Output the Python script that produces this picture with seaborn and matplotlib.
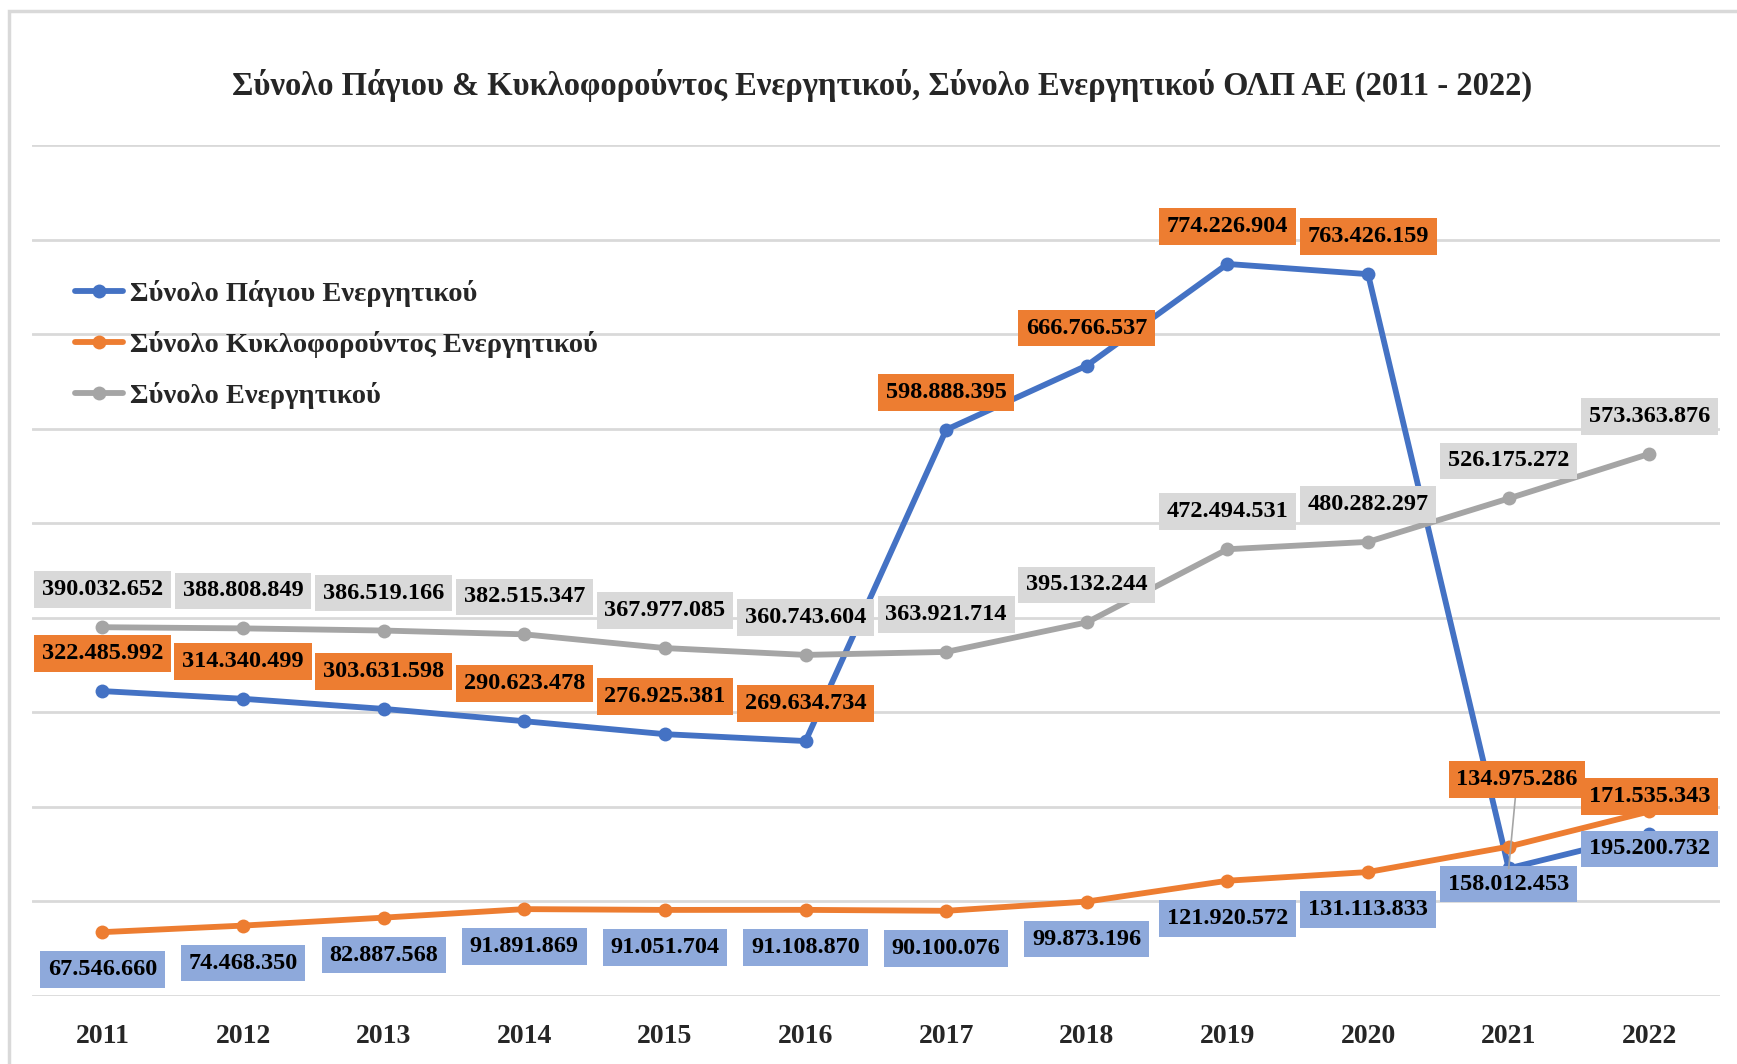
import matplotlib
matplotlib.use("Agg")
import matplotlib.pyplot as plt
import seaborn as sns
import pandas as pd
from matplotlib.patches import Rectangle

years = [2011, 2012, 2013, 2014, 2015, 2016, 2017, 2018, 2019, 2020, 2021, 2022]
pagio = [322485992, 314340499, 303631598, 290623478, 276925381, 269634734,
         598888395, 666766537, 774226904, 763426159, 134975286, 171535343]
kykloforoun = [67546660, 74468350, 82887568, 91891869, 91051704, 91108870,
               90100076, 99873196, 121920572, 131113833, 158012453, 195200732]
synolo = [390032652, 388808849, 386519166, 382515347, 367977085, 360743604,
          363921714, 395132244, 472494531, 480282297, 526175272, 573363876]

series_names = ["Σύνολο Πάγιου Ενεργητικού",
                "Σύνολο Κυκλοφορούντος Ενεργητικού",
                "Σύνολο Ενεργητικού"]
title = "Σύνολο Πάγιου & Κυκλοφορούντος Ενεργητικού, Σύνολο Ενεργητικού ΟΛΠ ΑΕ (2011 - 2022)"

line_colors = ["#4472C4", "#ED7D31", "#A5A5A5"]
box_colors = ["#ED7D31", "#8EA9DB", "#D9D9D9"]

sns.set_theme(style="white")
plt.rcParams['font.family'] = ['Liberation Serif', 'DejaVu Serif']

fig = plt.figure(figsize=(17.37, 10.64), dpi=100)
ax = fig.add_axes([0.0185, 0.0639, 0.9715, 0.7998])

df = pd.DataFrame({
    "year": years * 3,
    "value": pagio + kykloforoun + synolo,
    "series": [series_names[0]] * 12 + [series_names[1]] * 12 + [series_names[2]] * 12,
})

sns.lineplot(data=df, x="year", y="value", hue="series", hue_order=series_names,
             palette=line_colors, marker="o", markersize=10, markeredgewidth=0,
             linewidth=4.2, ax=ax, legend=True)

ax.set_xlim(2010.5, 2022.5)
ax.set_ylim(0, 900_000_000)
ax.set_yticks(range(0, 900_000_001, 100_000_000))
ax.set_yticklabels([])
ax.set_xticks(years)
ax.set_xticklabels([str(y) for y in years], fontsize=20, fontweight="bold")
ax.tick_params(axis="x", length=0, pad=20)
ax.tick_params(axis="y", length=0)
ax.grid(axis="y", color="#D9D9D9", linewidth=2)
ax.grid(axis="x", visible=False)
for s in ax.spines.values():
    s.set_visible(False)
ax.set_xlabel("")
ax.set_ylabel("")
ax.set_axisbelow(True)

def lab(x, y, val, color, dy, dx=0, leader=False):
    txt = f"{val:,}".replace(",", ".")
    kw = {}
    if leader:
        kw["arrowprops"] = dict(arrowstyle="-", color="#A5A5A5", lw=1.2, shrinkA=0, shrinkB=0)
    ax.annotate(txt, (x, y), xytext=(dx, dy), textcoords="offset points",
                ha="center", va="center", fontsize=17.5, fontweight="bold", color="black",
                bbox=dict(boxstyle="square,pad=0.32", fc=color, ec="none"),
                zorder=6 if leader else 5, **kw)

for i, yr in enumerate(years):
    lab(yr, synolo[i], synolo[i], box_colors[2], 27)
    if yr == 2021:
        lab(yr, pagio[i], pagio[i], box_colors[0], 64, dx=6, leader=True)
    else:
        lab(yr, pagio[i], pagio[i], box_colors[0], 27)
    lab(yr, kykloforoun[i], kykloforoun[i], box_colors[1], -27)

handles, labels = ax.get_legend_handles_labels()
leg = ax.legend(handles=handles, labels=labels, loc="upper left",
                bbox_to_anchor=(0.043, 0.737), bbox_transform=fig.transFigure,
                frameon=False, handlelength=1.7, handletextpad=0.25,
                labelspacing=0.85, borderpad=0, borderaxespad=0,
                prop={"weight": "bold", "size": 20.5})

fig.text(0.508, 0.92, title, ha="center", va="center", fontsize=23.5, fontweight="bold")

fig.patches.append(Rectangle((0.005, -0.1), 1.2, 1.09, transform=fig.transFigure,
                             fill=False, ec="#D9D9D9", lw=2.5))

fig.savefig("out.png", dpi=100)
